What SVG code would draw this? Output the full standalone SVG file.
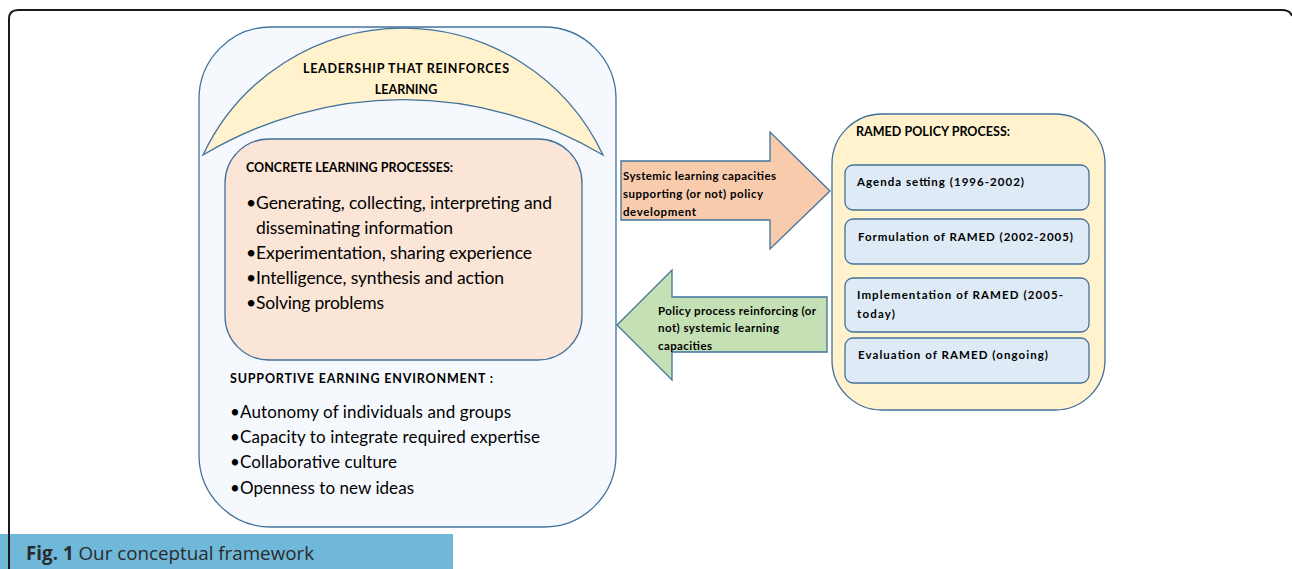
<svg xmlns="http://www.w3.org/2000/svg" width="1292" height="569" viewBox="0 0 1292 569">
<style>
.ln{stroke:#41719c;stroke-width:1.3}
.t{font-family:Lato,"Open Sans","Liberation Sans",sans-serif;fill:#000}
.b{font-weight:bold;font-size:12.5px}
.s{font-weight:bold;font-size:11.5px}
.big{font-size:17.5px}
.env{font-size:17px}
</style>
<rect x="0" y="0" width="1292" height="569" fill="#ffffff"/>
<path d="M9,569 L9,19 Q9,10 18,10 L1282,10 Q1290,10 1292,16" fill="none" stroke="#1a1a1a" stroke-width="2"/>
<g id="learning-system">
<rect class="ln" x="199" y="27" width="417" height="500" rx="72" ry="72" fill="#f5f9fe"/>
<g id="leadership">
<path class="ln" d="M203,155 A221,221 0 0 1 603,155 A389,389 0 0 0 203,155 Z" fill="#fff2cc"/>
<text class="t b" x="303" y="73" textLength="206">LEADERSHIP THAT REINFORCES</text>
<text class="t b" x="406" y="94" text-anchor="middle">LEARNING</text>
</g>
<g id="concrete">
<rect class="ln" x="225" y="139" width="357" height="221" rx="44" ry="44" fill="#fbe5d6"/>
<text class="t b" x="246" y="172" textLength="207">CONCRETE LEARNING PROCESSES:</text>
<text class="t big" x="246" y="209" textLength="306">•Generating, collecting, interpreting and</text>
<text class="t big" x="256" y="234" textLength="197">disseminating information</text>
<text class="t big" x="246" y="259" textLength="286">•Experimentation, sharing experience</text>
<text class="t big" x="246" y="284" textLength="258">•Intelligence, synthesis and action</text>
<text class="t big" x="246" y="309" textLength="138">•Solving problems</text>
</g>
<g id="environment">
<text class="t b" x="230" y="383" textLength="263">SUPPORTIVE EARNING ENVIRONMENT :</text>
<text class="t env" x="230" y="418" textLength="281">•Autonomy of individuals and groups</text>
<text class="t env" x="230" y="443" textLength="310">•Capacity to integrate required expertise</text>
<text class="t env" x="230" y="468" textLength="167">•Collaborative culture</text>
<text class="t env" x="230" y="494" textLength="184">•Openness to new ideas</text>
</g>
</g>
<g id="connectors">
<g id="arrow-right">
<path class="ln" d="M621,161 L770,161 L770,132 L830,191 L770,249 L770,220 L621,220 Z" fill="#f8cbad"/>
<text class="t s" x="623" y="180" textLength="153">Systemic learning capacities</text>
<text class="t s" x="623" y="198" textLength="140">supporting (or not) policy</text>
<text class="t s" x="623" y="216" textLength="73">development</text>
</g>
<g id="arrow-left">
<path class="ln" d="M617,325 L672,270 L672,297 L827,297 L827,352 L672,352 L672,380 Z" fill="#c5e0b4"/>
<text class="t s" x="658" y="315" textLength="158">Policy process reinforcing (or</text>
<text class="t s" x="658" y="332" textLength="121">not) systemic learning</text>
<text class="t s" x="658" y="350" textLength="54">capacities</text>
</g>
</g>
<g id="ramed">
<rect class="ln" x="832" y="114" width="273" height="296" rx="50" ry="50" fill="#fff2cc"/>
<text class="t b" x="856" y="136" textLength="154">RAMED POLICY PROCESS:</text>
<g id="stage1">
<rect class="ln" x="845" y="165" width="244" height="45" rx="8" fill="#deebf7"/>
<text class="t s" x="857" y="186" textLength="167">Agenda setting (1996-2002)</text>
</g>
<g id="stage2">
<rect class="ln" x="845" y="219" width="244" height="45" rx="8" fill="#deebf7"/>
<text class="t s" x="858" y="241" textLength="215">Formulation of RAMED (2002-2005)</text>
</g>
<g id="stage3">
<rect class="ln" x="845" y="278" width="244" height="54" rx="8" fill="#deebf7"/>
<text class="t s" x="857" y="299" textLength="206">Implementation of RAMED (2005-</text>
<text class="t s" x="857" y="318" textLength="38">today)</text>
</g>
<g id="stage4">
<rect class="ln" x="845" y="338" width="244" height="45" rx="8" fill="#deebf7"/>
<text class="t s" x="858" y="359" textLength="190">Evaluation of RAMED (ongoing)</text>
</g>
</g>
<g id="caption">
<rect x="0" y="534" width="453" height="35" fill="#6fb8d9"/>
<line x1="9" y1="534" x2="9" y2="569" stroke="#1a1a1a" stroke-width="2"/>
<text x="26" y="560" style="font-family:'Open Sans','Liberation Sans',sans-serif;font-size:18.8px;fill:#2b2b2b"><tspan font-weight="bold">Fig. 1</tspan> Our conceptual framework</text>
</g>
</svg>
